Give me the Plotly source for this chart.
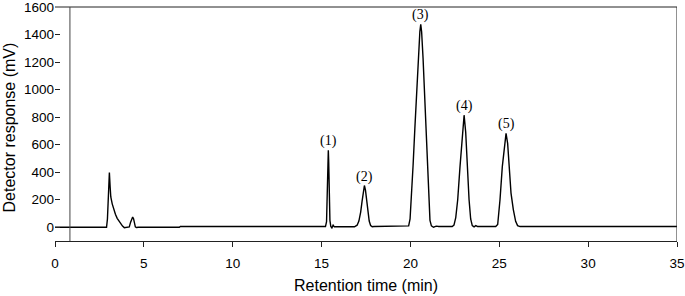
import plotly.graph_objects as go

# Chromatogram trace (time in min, response in mV)
time_min = [
    0.0, 2.90, 2.95, 3.00, 3.03, 3.06, 3.10, 3.14, 3.22, 3.30, 3.40, 3.50, 3.60, 3.70, 3.80, 3.90,
    4.10, 4.18, 4.25, 4.32, 4.37, 4.42, 4.47, 4.52, 4.58, 4.70,
    7.00, 7.05,
    15.22, 15.28, 15.32, 15.36, 15.38, 15.40, 15.43, 15.47, 15.52, 15.58, 15.65, 15.72,
    16.85, 17.00, 17.10, 17.20, 17.28, 17.35, 17.41, 17.47, 17.54, 17.60, 17.68, 17.76, 17.85, 17.95,
    19.80, 19.90, 19.98, 20.05, 20.15, 20.25, 20.35, 20.45, 20.53, 20.58, 20.63, 20.71, 20.80,
    20.88, 20.96, 21.03, 21.10, 21.18, 21.30, 21.45, 21.60,
    22.35, 22.45, 22.55, 22.66, 22.79, 22.92, 23.02, 23.11, 23.20, 23.30, 23.39, 23.48, 23.58,
    23.68, 23.78,
    24.80, 24.91, 25.04, 25.17, 25.29, 25.38, 25.47, 25.56, 25.66, 25.79, 25.92, 26.03, 26.17,
    35.0,
]
response_mv = [
    0, 0, 60, 250, 360, 397, 300, 220, 170, 130, 95, 65, 45, 25, 8, -3,
    -3, 2, 35, 68, 74, 62, 25, 3, -2, 0,
    0, 5,
    5, 40, 250, 500, 560, 480, 220, 50, 5, -5, 15, 3,
    3, 15, 45, 110, 190, 265, 303, 270, 190, 110, 45, 12, 4, 5,
    5, 10, 60, 200, 450, 720, 1000, 1250, 1420, 1475, 1420, 1230, 960,
    680, 400, 170, 50, 10, 0, 8, 5,
    5, 15, 70, 200, 440, 690, 814, 690, 440, 200, 60, 12, 3,
    12, 5,
    5, 20, 200, 440, 609, 682, 609, 440, 248, 128, 43, 12, 5,
    5,
]

# Peak labels
peak_labels = ["(1)", "(2)", "(3)", "(4)", "(5)"]
peak_times = [15.38, 17.41, 20.58, 23.02, 25.38]
peak_heights = [560, 303, 1475, 814, 682]

x_ticks = [0, 5, 10, 15, 20, 25, 30, 35]
y_ticks = [0, 200, 400, 600, 800, 1000, 1200, 1400, 1600]

x_title = "Retention time (min)"
y_title = "Detector response (mV)"

fig = go.Figure()
fig.add_trace(go.Scatter(
    x=time_min, y=response_mv, mode="lines",
    line=dict(color="black", width=1.4), showlegend=False, hoverinfo="skip",
))

for lab, t, h in zip(peak_labels, peak_times, peak_heights):
    fig.add_annotation(
        x=t, y=h, xref="x", yref="y", text=lab, showarrow=False,
        yanchor="bottom", yshift=-1,
        font=dict(family="Liberation Serif", size=14, color="black"),
    )

# axis titles
fig.add_annotation(
    text=x_title, xref="paper", yref="paper", x=0.5, y=0, yshift=-44,
    xanchor="center", yanchor="middle", showarrow=False,
    font=dict(family="Liberation Sans", size=16, color="black"),
)
fig.add_annotation(
    text=y_title, xref="paper", yref="paper", x=0, xshift=-46.5, y=0.5, yshift=-4,
    xanchor="center", yanchor="middle", textangle=-90, showarrow=False,
    font=dict(family="Liberation Sans", size=16, color="black"),
)

# frame: top border, right border and the left vertical line
fig.add_shape(type="line", xref="paper", yref="paper", x0=0, x1=1, y0=1, y1=1,
              line=dict(color="#222", width=1))
fig.add_shape(type="line", xref="x", yref="paper", x0=35, x1=35, y0=0, y1=1,
              line=dict(color="#222", width=1))
fig.add_shape(type="line", xref="x", yref="paper", x0=0.84, x1=0.84, y0=0, y1=1,
              line=dict(color="#444", width=1))

fig.update_layout(
    width=685, height=296,
    margin=dict(l=55, r=8, t=7, b=55, autoexpand=False),
    paper_bgcolor="white", plot_bgcolor="white",
    font=dict(family="Liberation Sans", size=13, color="black"),
    xaxis=dict(
        range=[0, 35], tickvals=x_ticks, ticks="outside", ticklen=5,
        tickcolor="#222", showline=True, linecolor="#222", linewidth=1, mirror=False,
        showgrid=False, zeroline=False, automargin=False,
        ticklabelstandoff=5, ticklabeloverflow="allow",
        tickfont=dict(size=13.5),
    ),
    yaxis=dict(
        range=[-100, 1600], tickvals=y_ticks, ticks="inside", ticklen=5,
        tickcolor="#222", showline=False, showgrid=False, zeroline=False,
        automargin=False, ticklabelstandoff=0, ticklabeloverflow="allow",
        tickfont=dict(size=13.5),
    ),
)

fig.write_html(
    "out.html",
    config={"displayModeBar": False},
    post_script="document.body.style.margin='0';document.body.style.overflow='hidden';",
)
